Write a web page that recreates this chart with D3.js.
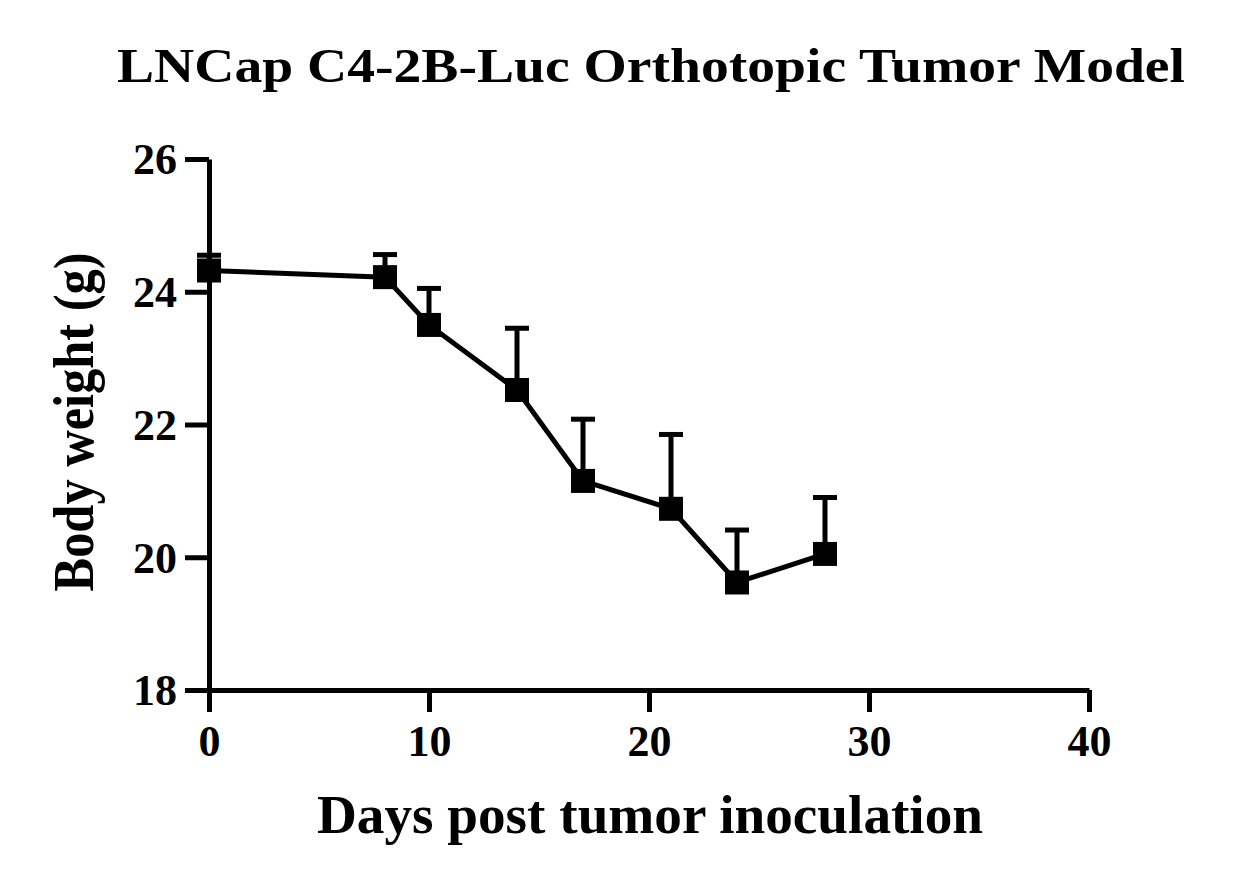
<!DOCTYPE html>
<html>
<head>
<meta charset="utf-8">
<script src="https://cdn.jsdelivr.net/npm/d3@7"></script>
<style>
  body { margin: 0; background: #fff; }
  text { font-family: "Liberation Serif", "Times New Roman", serif; font-weight: bold; fill: #000; }
</style>
</head>
<body>
<div id="chart"></div>
<script>
// ---------------- data ----------------
const days = [0, 8, 10, 14, 17, 21, 24, 28];
const weight = [24.32, 24.22, 23.5, 22.52, 21.15, 20.73, 19.62, 20.05];
const sem = [0.23, 0.34, 0.55, 0.93, 0.93, 1.12, 0.79, 0.85];
const xTicks = [0, 10, 20, 30, 40];
const yTicks = [18, 20, 22, 24, 26];

const points = days.map((d, i) => ({ day: d, w: weight[i], err: sem[i] }));

// ---------------- layout ----------------
const W = 1238, H = 885;
const svg = d3.select("#chart").append("svg")
  .attr("width", W)
  .attr("height", H);

const x = d3.scaleLinear().domain([0, 40]).range([209, 1089]);
const y = d3.scaleLinear().domain([18, 26]).range([690, 159]);

// ---------------- axes ----------------
const xAxis = svg.append("g")
  .attr("transform", `translate(0,${y(18)})`)
  .call(d3.axisBottom(x).tickValues(xTicks).tickSize(22).tickSizeOuter(0).tickPadding(12));

const yAxis = svg.append("g")
  .attr("transform", `translate(${x(0)},0)`)
  .call(d3.axisLeft(y).tickValues(yTicks).tickSize(24).tickSizeOuter(0).tickPadding(8));

[xAxis, yAxis].forEach(g => {
  g.select(".domain").attr("stroke", "#000").attr("stroke-width", 5);
  g.selectAll(".tick line").attr("stroke", "#000").attr("stroke-width", 5);
  g.selectAll(".tick text")
    .style("font-family", "'Liberation Serif', 'Times New Roman', serif")
    .style("font-weight", "bold")
    .style("font-size", "44px")
    .attr("fill", "#000");
});
xAxis.selectAll(".tick text").attr("dy", "0.72em");
yAxis.selectAll(".tick text").attr("dy", "0.34em");

// ---------------- error bars ----------------
const bars = svg.append("g").attr("class", "errors");
bars.selectAll("line.stem")
  .data(points)
  .join("line")
  .attr("class", "stem")
  .attr("x1", d => x(d.day))
  .attr("x2", d => x(d.day))
  .attr("y1", d => y(d.w))
  .attr("y2", d => y(d.w + d.err))
  .attr("stroke", "#000")
  .attr("stroke-width", 5);

bars.selectAll("line.cap")
  .data(points)
  .join("line")
  .attr("class", "cap")
  .attr("x1", d => x(d.day) - 12)
  .attr("x2", d => x(d.day) + 12)
  .attr("y1", d => y(d.w + d.err))
  .attr("y2", d => y(d.w + d.err))
  .attr("stroke", "#000")
  .attr("stroke-width", 5);

// ---------------- line + markers ----------------
const line = d3.line()
  .x(d => x(d.day))
  .y(d => y(d.w));

svg.append("path")
  .datum(points)
  .attr("d", line)
  .attr("fill", "none")
  .attr("stroke", "#000")
  .attr("stroke-width", 5);

const size = 24;
svg.append("g")
  .selectAll("rect")
  .data(points)
  .join("rect")
  .attr("x", d => x(d.day) - size / 2)
  .attr("y", d => y(d.w) - size / 2)
  .attr("width", size)
  .attr("height", size)
  .attr("fill", "#000");

// ---------------- titles ----------------
svg.append("text")
  .attr("x", 651)
  .attr("y", 82)
  .attr("text-anchor", "middle")
  .attr("textLength", 1068)
  .attr("lengthAdjust", "spacingAndGlyphs")
  .style("font-size", "48px")
  .text("LNCap C4-2B-Luc Orthotopic Tumor Model");

svg.append("text")
  .attr("x", 650)
  .attr("y", 833)
  .attr("text-anchor", "middle")
  .attr("textLength", 666)
  .attr("lengthAdjust", "spacingAndGlyphs")
  .style("font-size", "54px")
  .text("Days post tumor inoculation");

svg.append("text")
  .attr("transform", "translate(93,422) rotate(-90)")
  .attr("text-anchor", "middle")
  .attr("textLength", 339)
  .attr("lengthAdjust", "spacingAndGlyphs")
  .style("font-size", "57px")
  .text("Body weight (g)");
</script>
</body>
</html>
